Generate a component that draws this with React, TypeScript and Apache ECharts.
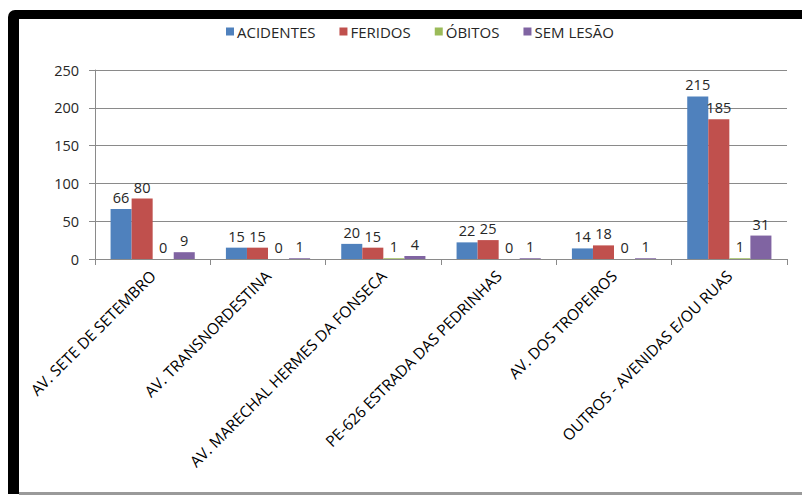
import React, { useEffect, useRef } from "react";
import * as echarts from "echarts";

const categories = [
  "AV. SETE DE SETEMBRO",
  "AV. TRANSNORDESTINA",
  "AV. MARECHAL HERMES DA FONSECA",
  "PE-626 ESTRADA DAS PEDRINHAS",
  "AV. DOS TROPEIROS",
  "OUTROS - AVENIDAS E/OU RUAS",
];
const acidentes = [66, 15, 20, 22, 14, 215];
const feridos = [80, 15, 15, 25, 18, 185];
const obitos = [0, 0, 1, 0, 0, 1];
const semLesao = [9, 1, 4, 1, 1, 31];
const seriesNames = ["ACIDENTES", "FERIDOS", "ÓBITOS", "SEM LESÃO"];
const seriesColors = ["#4F81BD", "#C0504D", "#9BBB59", "#8064A2"];
const yTicks = { min: 0, max: 250, interval: 50 };

const FONT = "'Open Sans', 'Noto Sans', sans-serif";

export default function App() {
  const ref = useRef<HTMLDivElement>(null);
  useEffect(() => {
    document.body.style.margin = "0";
    const chart = echarts.init(ref.current!, null, { renderer: "svg" });
    const data = [acidentes, feridos, obitos, semLesao];
    chart.setOption({
      animation: false,
      backgroundColor: "#fff",
      textStyle: { fontFamily: FONT },
      graphic: [
        {
          type: "rect",
          z: -10,
          silent: true,
          shape: { x: 8, y: 10, width: 800, height: 484, r: [7, 0, 0, 0] },
          style: { fill: "#000" },
        },
        {
          type: "rect",
          z: -9,
          silent: true,
          shape: { x: 19, y: 19, width: 790, height: 473 },
          style: { fill: "#fff" },
        },
        {
          type: "rect",
          z: -8,
          silent: true,
          shape: { x: 19, y: 492, width: 790, height: 3 },
          style: { fill: "#9a9a9a" },
        },
      ],
      legend: {
        top: 19,
        left: 221,
        itemWidth: 8,
        itemHeight: 8,
        itemGap: 24,
        icon: "rect",
        textStyle: { fontSize: 15, color: "#262626", fontFamily: FONT, padding: [0, 0, 0, -2] },
        data: seriesNames,
      },
      grid: { left: 95, right: 15, top: 70, bottom: 236 },
      xAxis: {
        type: "category",
        data: categories,
        axisLine: { show: true, lineStyle: { color: "#8a8a8a" } },
        axisTick: { show: true, length: 6, lineStyle: { color: "#8a8a8a" } },
        axisLabel: {
          rotate: 45,
          interval: 0,
          fontSize: 15.5,
          color: "#000",
          margin: 14,
          fontFamily: FONT,
        },
      },
      yAxis: {
        type: "value",
        min: yTicks.min,
        max: yTicks.max,
        interval: yTicks.interval,
        axisLine: { show: true, lineStyle: { color: "#8a8a8a" } },
        axisTick: { show: true, length: 6, lineStyle: { color: "#8a8a8a" } },
        axisLabel: { fontSize: 14.5, color: "#262626", margin: 16, fontFamily: FONT },
        splitLine: { show: true, lineStyle: { color: "#8a8a8a" } },
      },
      series: seriesNames.map((name, i) => ({
        name,
        type: "bar",
        data: data[i],
        barGap: "0%",
        barCategoryGap: "27%",
        itemStyle: { color: seriesColors[i] },
        label: {
          show: true,
          position: "top",
          distance: 4,
          fontSize: 14.5,
          color: "#262626",
          fontFamily: FONT,
        },
      })),
    });
    return () => chart.dispose();
  }, []);
  return <div ref={ref} style={{ width: 802, height: 495 }} />;
}
